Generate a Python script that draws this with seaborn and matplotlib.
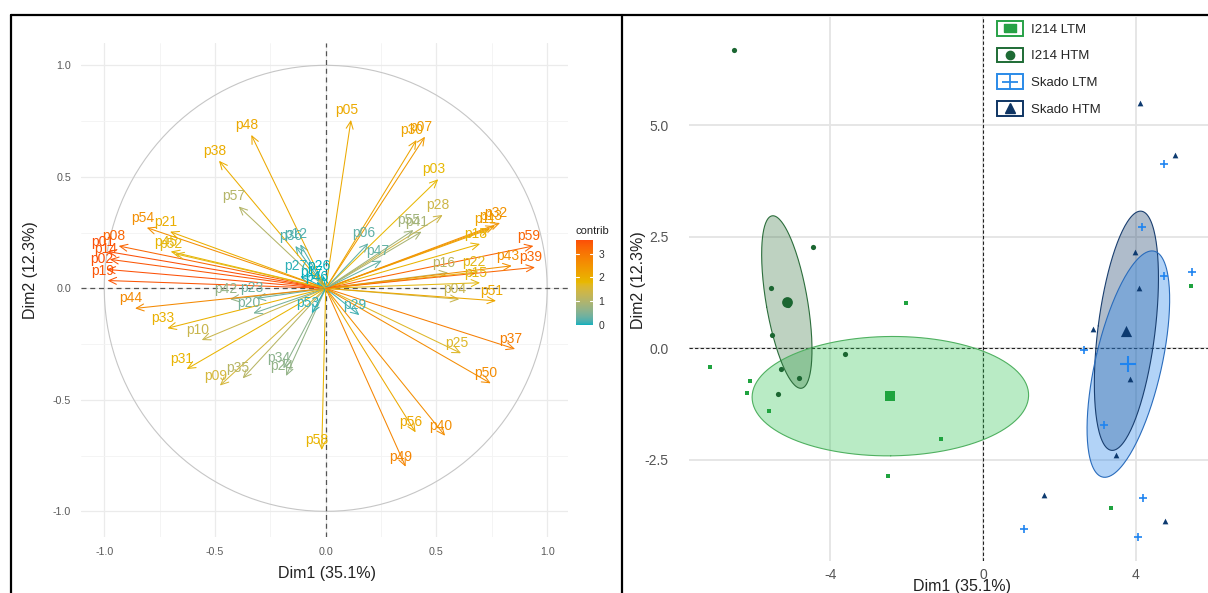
import numpy as np
import pandas as pd
import matplotlib
matplotlib.use("Agg")
import matplotlib.pyplot as plt
import seaborn as sns
from matplotlib.colors import ListedColormap, Normalize, to_rgb
from matplotlib.patches import Rectangle
from matplotlib.lines import Line2D
from matplotlib.legend_handler import HandlerBase

# ----------------------------- data -----------------------------
# variables (correlation circle), coordinates on Dim1 / Dim2
var_names = [f"p{i:02d}" for i in range(1, 60)]
var_dim1 = [-0.985, -0.990, 0.508, 0.603, 0.114, 0.192, 0.448, -0.935, -0.478, -0.560,
            0.742, -0.115, 0.764, -0.975, 0.697, 0.553, -0.042, 0.697, -0.985, -0.327,
            -0.703, 0.689, -0.312, -0.179, 0.611, -0.012, -0.115, 0.528, 0.152, 0.410,
            -0.628, 0.787, -0.715, -0.191, -0.375, -0.137, 0.855, -0.482, 0.945, 0.539,
            0.433, -0.432, 0.840, -0.861, -0.700, -0.020, 0.253, -0.336, 0.361, 0.745,
            0.769, -0.680, -0.063, -0.808, 0.396, 0.406, -0.393, -0.018, 0.938]
var_dim2 = [0.165, 0.085, 0.489, -0.049, 0.755, 0.202, 0.680, 0.190, -0.436, -0.232,
            0.266, 0.197, 0.279, 0.130, 0.025, 0.070, 0.028, 0.199, 0.035, -0.112,
            0.254, 0.074, -0.045, -0.393, -0.291, 0.057, 0.055, 0.329, -0.120, 0.665,
            -0.362, 0.293, -0.179, -0.359, -0.404, 0.190, -0.272, 0.572, 0.094, -0.661,
            0.254, -0.049, 0.101, -0.090, 0.165, 0.005, 0.124, 0.688, -0.800, -0.426,
            -0.056, 0.155, -0.112, 0.272, 0.261, -0.646, 0.367, -0.725, 0.190]
eig_pct = [35.1, 12.3]

# individuals
group_names = ["I214 LTM", "I214 HTM", "Skado LTM", "Skado HTM"]
i214_ltm_dim1 = [-7.15, -6.10, -6.19, -5.60, -2.02, -1.10, -2.50, 3.36, 5.45]
i214_ltm_dim2 = [-0.42, -0.74, -1.01, -1.40, 1.01, -2.03, -2.87, -3.59, 1.39]
i214_htm_dim1 = [-6.52, -4.45, -5.56, -5.12, -5.53, -3.61, -5.28, -4.82, -5.36]
i214_htm_dim2 = [6.70, 2.28, 1.36, 0.97, 0.30, -0.13, -0.46, -0.66, -1.02]
skado_ltm_dim1 = [4.74, 4.15, 4.73, 5.47, 2.63, 3.17, 4.20, 1.08, 4.07]
skado_ltm_dim2 = [4.13, 2.73, 1.62, 1.71, -0.03, -1.71, -3.36, -4.05, -4.23]
skado_htm_dim1 = [4.12, 5.03, 3.99, 4.08, 2.88, 3.85, 3.48, 1.59, 4.76]
skado_htm_dim2 = [5.51, 4.34, 2.15, 1.35, 0.44, -0.69, -2.39, -3.29, -3.88]

# ----------------------------- style -----------------------------
sns.set_style("white")
plt.rcParams['font.family'] = ['Liberation Sans', 'DejaVu Sans']
plt.rcParams['axes.unicode_minus'] = False

W, H = 1208, 593
fig = plt.figure(figsize=(W / 100, H / 100), dpi=100)


def fr(l, t, r, b):
    return [l / W, 1 - b / H, (r - l) / W, (b - t) / H]


axL = fig.add_axes(fr(81, 43, 568, 537))
axR = fig.add_axes(fr(689.4, 17, 1208, 561))
cax = fig.add_axes(fr(576, 240, 593, 325))


# ---- CIELAB gradient (like ggplot2's scale_colour_gradientn) ----
def _srgb_to_lab(rgb):
    rgb = np.asarray(rgb, float)
    lin = np.where(rgb > 0.04045, ((rgb + 0.055) / 1.055) ** 2.4, rgb / 12.92)
    M = np.array([[0.4124, 0.3576, 0.1805], [0.2126, 0.7152, 0.0722], [0.0193, 0.1192, 0.9505]])
    xyz = M @ lin / np.array([0.95047, 1.0, 1.08883])
    f = np.where(xyz > 0.008856, np.cbrt(xyz), 7.787 * xyz + 16 / 116)
    return np.array([116 * f[1] - 16, 500 * (f[0] - f[1]), 200 * (f[1] - f[2])])


def _lab_to_srgb(lab):
    L, a, b = lab
    fy = (L + 16) / 116
    fx = fy + a / 500
    fz = fy - b / 200
    f = np.array([fx, fy, fz])
    xyz = np.where(f ** 3 > 0.008856, f ** 3, (f - 16 / 116) / 7.787) * np.array([0.95047, 1.0, 1.08883])
    Mi = np.array([[3.2406, -1.5372, -0.4986], [-0.9689, 1.8758, 0.0415], [0.0557, -0.2040, 1.0570]])
    lin = Mi @ xyz
    rgb = np.where(lin > 0.0031308, 1.055 * np.clip(lin, 0, None) ** (1 / 2.4) - 0.055, 12.92 * lin)
    return np.clip(rgb, 0, 1)


grad_cols = ["#00AFBB", "#E7B800", "#FC4E07"]
labs = [_srgb_to_lab(to_rgb(c)) for c in grad_cols]
stops = []
for v in np.linspace(0, 1, 256):
    seg = min(int(v * 2), 1)
    u = v * 2 - seg
    stops.append(_lab_to_srgb(labs[seg] * (1 - u) + labs[seg + 1] * u))
cmap = ListedColormap(stops)

# ----------------------------- left panel -----------------------------
var_df = pd.DataFrame({"name": var_names, "Dim1": var_dim1, "Dim2": var_dim2})
tot = 59.0
eig1, eig2 = eig_pct[0] / 100 * tot, eig_pct[1] / 100 * tot
var_df["contrib"] = 100 * (var_df.Dim1 ** 2 + var_df.Dim2 ** 2) / (eig1 + eig2)
norm = Normalize(vmin=var_df.contrib.min(), vmax=var_df.contrib.max())

axL.set_xlim(-1.105, 1.094)
axL.set_ylim(-1.115, 1.10)
maj = [-1, -0.5, 0, 0.5, 1]
mino = [-0.75, -0.25, 0.25, 0.75]
axL.set_xticks(maj)
axL.set_yticks(maj)
axL.set_xticks(mino, minor=True)
axL.set_yticks(mino, minor=True)
axL.set_xticklabels([f"{v:.1f}" for v in maj])
axL.set_yticklabels([f"{v:.1f}" for v in maj])
axL.grid(which="major", color="#ebebeb", lw=0.9)
axL.grid(which="minor", color="#f3f3f3", lw=0.6)
axL.set_axisbelow(True)
for s in axL.spines.values():
    s.set_visible(False)
axL.tick_params(which="major", length=3, width=0.6, color="#777777", labelsize=7.7,
                labelcolor="#5a5a5a", pad=4)
axL.tick_params(which="minor", length=0)

t = np.linspace(0, 2 * np.pi, 300)
axL.plot(np.cos(t), np.sin(t), color="#c6c6c6", lw=0.8, zorder=1)
axL.axhline(0, color="#555555", ls=(0, (4, 3)), lw=0.9, zorder=1)
axL.axvline(0, color="#555555", ls=(0, (4, 3)), lw=0.9, zorder=1)

for _, r in var_df.iterrows():
    c = cmap(norm(r.contrib))
    axL.annotate("", xy=(r.Dim1, r.Dim2), xytext=(0, 0),
                 arrowprops=dict(arrowstyle="->,head_length=0.55,head_width=0.25",
                                 color=c, lw=0.75, shrinkA=0, shrinkB=0), zorder=2)
for _, r in var_df.iterrows():
    c = cmap(norm(r.contrib))
    axL.annotate(r["name"], xy=(r.Dim1, r.Dim2), xytext=(-4.5, 10),
                 textcoords="offset pixels", ha="center", va="center",
                 color=c, fontsize=10, zorder=3)

axL.set_xlabel(f"Dim1 ({eig_pct[0]}%)", fontsize=11.5, color="#222222")
axL.set_ylabel(f"Dim2 ({eig_pct[1]}%)", fontsize=11.5, color="#222222")
axL.xaxis.set_label_coords(0.505, -0.058)
axL.yaxis.set_label_coords(-0.088, 0.54)

# colorbar
sm = matplotlib.cm.ScalarMappable(norm=norm, cmap=cmap)
cb = fig.colorbar(sm, cax=cax)
cb.outline.set_visible(False)
cb.set_ticks([0, 1, 2, 3])
cax.tick_params(length=0, labelsize=7.5, labelcolor="#333333", pad=4)
for v in [0, 1, 2, 3]:
    cax.plot([0, 0.2], [v, v], color="white", lw=0.8)
    cax.plot([0.8, 1.0], [v, v], color="white", lw=0.8)
cax.text(0.0, 1 + 9.5 / 85, "contrib", transform=cax.transAxes, ha="left", va="center",
         fontsize=8, color="#222222")

# ----------------------------- right panel -----------------------------
ind_df = pd.concat([
    pd.DataFrame({"Dim1": i214_ltm_dim1, "Dim2": i214_ltm_dim2, "group": group_names[0]}),
    pd.DataFrame({"Dim1": i214_htm_dim1, "Dim2": i214_htm_dim2, "group": group_names[1]}),
    pd.DataFrame({"Dim1": skado_ltm_dim1, "Dim2": skado_ltm_dim2, "group": group_names[2]}),
    pd.DataFrame({"Dim1": skado_htm_dim1, "Dim2": skado_htm_dim2, "group": group_names[3]}),
], ignore_index=True)
means = ind_df.groupby("group")[["Dim1", "Dim2"]].mean()

pt_colors = {"I214 LTM": "#1fa33f", "I214 HTM": "#1b6631",
             "Skado LTM": "#1f84f0", "Skado HTM": "#0d3a70"}
fill_colors = {"I214 LTM": ("#27c24c", 0.32), "I214 HTM": ("#2a6a33", 0.30),
               "Skado LTM": ("#2a86ea", 0.36), "Skado HTM": ("#23466f", 0.36)}
edge_colors = {"I214 LTM": "#4fb060", "I214 HTM": "#2c6e3c",
               "Skado LTM": "#2a6cbc", "Skado HTM": "#1a3f70"}
markers = {"I214 LTM": "s", "I214 HTM": "o", "Skado LTM": "+", "Skado HTM": "^"}
small_s = {"I214 LTM": 11, "I214 HTM": 14, "Skado LTM": 38, "Skado HTM": 17}
big_s = {"I214 LTM": 45, "I214 HTM": 60, "Skado LTM": 130, "Skado HTM": 65}

axR.set_xlim(-7.69, 5.89)
axR.set_ylim(-4.77, 7.43)
axR.set_xticks([-4, 0, 4])
axR.set_yticks([-2.5, 0, 2.5, 5.0])
axR.set_yticklabels(["-2.5", "0.0", "2.5", "5.0"])
axR.grid(color="#e4e4e4", lw=1.3)
axR.set_axisbelow(True)
for s in axR.spines.values():
    s.set_visible(False)
axR.tick_params(length=3, width=0.6, color="#777777", labelsize=10,
                labelcolor="#555555", pad=12)
axR.tick_params(axis="x", pad=2)
axR.axhline(0, color="#222222", ls=(0, (3, 2)), lw=0.8, zorder=1)
axR.axvline(0, color="#222222", ls=(0, (3, 2)), lw=0.8, zorder=1)


def conf_ellipse(x, y):
    x = np.asarray(x, float)
    y = np.asarray(y, float)
    kk = np.sqrt(-2 * np.log(0.05) / len(x))
    cov = np.cov(x, y)
    vals, vecs = np.linalg.eigh(cov)
    tt = np.linspace(0, 2 * np.pi, 240)
    circ = np.stack([np.cos(tt), np.sin(tt)])
    pts = vecs @ (np.sqrt(vals)[:, None] * circ) * kk
    return pts[0] + x.mean(), pts[1] + y.mean()


for g in ["I214 LTM", "I214 HTM", "Skado HTM", "Skado LTM"]:
    sub = ind_df[ind_df.group == g]
    ex, ey = conf_ellipse(sub.Dim1, sub.Dim2)
    fc, a = fill_colors[g]
    axR.fill(ex, ey, facecolor=fc, alpha=a, edgecolor="none", zorder=2)
for g in ["I214 LTM", "I214 HTM", "Skado HTM", "Skado LTM"]:
    sub = ind_df[ind_df.group == g]
    ex, ey = conf_ellipse(sub.Dim1, sub.Dim2)
    axR.plot(ex, ey, color=edge_colors[g], lw=0.8, zorder=2.5)

for g in group_names:
    sub = ind_df[ind_df.group == g]
    lw = 1.2 if markers[g] == "+" else 0
    sns.scatterplot(data=sub, x="Dim1", y="Dim2", marker=markers[g], color=pt_colors[g],
                    s=small_s[g], linewidth=lw, ax=axR, legend=False, zorder=4)
    mdf = means.loc[[g]].reset_index()
    sns.scatterplot(data=mdf, x="Dim1", y="Dim2", marker=markers[g], color=pt_colors[g],
                    s=big_s[g], linewidth=(1.5 if markers[g] == "+" else 0), ax=axR,
                    legend=False, zorder=5)

axR.set_xlabel(f"Dim1 ({eig_pct[0]}%)", fontsize=11.5, color="#222222")
axR.set_ylabel(f"Dim2 ({eig_pct[1]}%)", fontsize=11.5, color="#222222")
axR.xaxis.set_label_coords(0.526, -0.033)
axR.yaxis.set_label_coords(-0.083, 0.517)


class BoxedMarkerHandler(HandlerBase):
    def create_artists(self, legend, orig_handle, xdescent, ydescent, width, height,
                       fontsize, trans):
        col = orig_handle.get_color()
        rect = Rectangle((-xdescent, -ydescent), width, height, facecolor="white",
                         edgecolor=col, lw=1.4, transform=trans)
        mk = Line2D([-xdescent + width / 2], [-ydescent + height / 2],
                    marker=orig_handle.get_marker(), markersize=orig_handle.get_markersize(),
                    color=col, mew=orig_handle.get_markeredgewidth(), linestyle="",
                    transform=trans)
        return [rect, mk]


rect_marker = [(-1.4, -1), (1.4, -1), (1.4, 1), (-1.4, 1), (-1.4, -1)]
leg_markers = {"I214 LTM": (rect_marker, 8.5, 1), "I214 HTM": ("o", 6, 1),
               "Skado LTM": ("+", 12, 1.3), "Skado HTM": ("^", 7, 1)}
edge_leg = {"I214 LTM": "#27a146", "I214 HTM": "#1e6b35",
            "Skado LTM": "#2a8ae8", "Skado HTM": "#0e3463"}
handles = []
for g in group_names:
    m, ms, mew = leg_markers[g]
    h = Line2D([], [], marker=m, markersize=ms, markeredgewidth=mew, linestyle="",
               color=edge_leg[g])
    handles.append(h)
axR.legend(handles, group_names, handler_map={Line2D: BoxedMarkerHandler()},
           loc="upper left", bbox_to_anchor=(997 / W, 1 - 21 / H),
           bbox_transform=fig.transFigure, frameon=False, borderaxespad=0, borderpad=0,
           fontsize=9.5, handlelength=1.95, handleheight=1.35, handletextpad=0.6,
           labelspacing=0.9)

# ----------------------------- panel frames -----------------------------
fig.add_artist(Line2D([11 / W, 1], [1 - 15 / H, 1 - 15 / H], transform=fig.transFigure,
                      color="black", lw=1.6))
fig.add_artist(Line2D([11 / W, 11 / W], [0, 1 - 15 / H], transform=fig.transFigure,
                      color="black", lw=1.6))
fig.add_artist(Line2D([622 / W, 622 / W], [0, 1 - 15 / H], transform=fig.transFigure,
                      color="black", lw=1.6))

fig.savefig("out.png", dpi=100, facecolor="white")
